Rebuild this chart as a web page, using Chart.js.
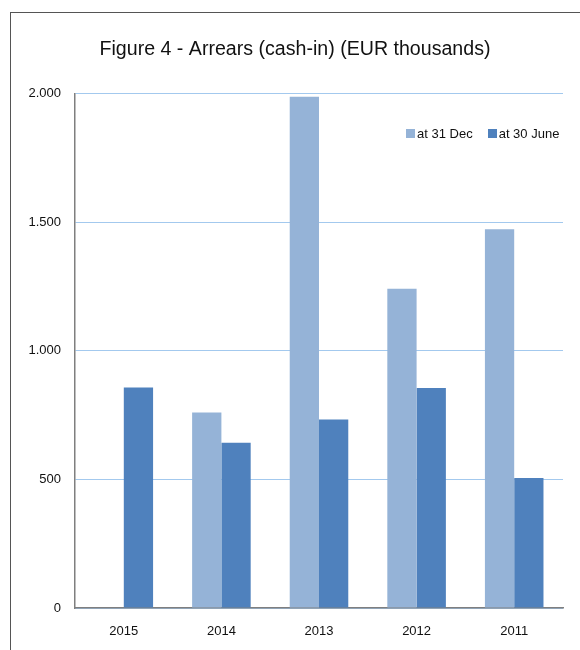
<!DOCTYPE html>
<html>
<head>
<meta charset="utf-8">
<script src="https://cdn.jsdelivr.net/npm/chart.js@4"></script>
<style>
  html, body { margin: 0; padding: 0; background: #fff; }
  body { width: 580px; height: 650px; position: relative; overflow: hidden; font-family: "Liberation Sans", Arial, sans-serif; }
  #frame { position: absolute; left: 10px; top: 12px; width: 700px; height: 700px; border-left: 1.5px solid #555; border-top: 1.5px solid #555; }
  #wrap { position: absolute; left: 0; top: 0; width: 580px; height: 650px; }
  #legend { position: absolute; top: 126px; left: 406px; font-size: 13px; color: #111; display: flex; align-items: center; white-space: nowrap; }
  #legend span.box { display: inline-block; width: 9px; height: 9px; margin-right: 2px; }
  #legend span.item { display: inline-flex; align-items: center; margin-right: 15px; }
</style>
</head>
<body>
<div id="frame"></div>
<div id="wrap"><canvas id="chart" width="580" height="650"></canvas></div>
<div id="legend"></div>
<script>
// data
const years = ["2015", "2014", "2013", "2012", "2011"];
const atDec = [null, 760, 1987, 1241, 1472];
const atJune = [857, 642, 733, 855, 505];
const seriesNames = ["at 31 Dec", "at 30 June"];
const seriesColors = ["#95B3D7", "#4F81BD"];
const yTicks = [0, 500, 1000, 1500, 2000];

const FONT = "'Liberation Sans', Arial, sans-serif";

// html legend (top right inside the plot)
const legendEl = document.getElementById("legend");
seriesNames.forEach((name, i) => {
  const item = document.createElement("span");
  item.className = "item";
  const box = document.createElement("span");
  box.className = "box";
  box.style.background = seriesColors[i];
  item.appendChild(box);
  item.appendChild(document.createTextNode(name));
  legendEl.appendChild(item);
});

const fmt = v => v.toLocaleString("de-DE");

new Chart(document.getElementById("chart"), {
  type: "bar",
  data: {
    labels: years,
    datasets: [
      { label: seriesNames[0], data: atDec, backgroundColor: seriesColors[0] },
      { label: seriesNames[1], data: atJune, backgroundColor: seriesColors[1] }
    ]
  },
  options: {
    responsive: false,
    animation: false,
    layout: { padding: { left: 27, right: 17, top: 0, bottom: 0 } },
    datasets: { bar: { categoryPercentage: 0.6, barPercentage: 1 } },
    plugins: {
      legend: { display: false },
      tooltip: { enabled: false },
      title: {
        display: true,
        text: "Figure 4 - Arrears (cash-in) (EUR thousands)",
        color: "#111",
        font: { family: FONT, size: 19.6, weight: "normal" },
        padding: { top: 38, bottom: 32 }
      }
    },
    scales: {
      x: {
        grid: { display: false, drawTicks: false },
        border: { color: "#7f7f7f", width: 1.5 },
        ticks: { color: "#111", font: { family: FONT, size: 13 }, padding: 16 },
        afterFit: s => { s.height = 42; }
      },
      y: {
        min: 0,
        max: 2000,
        afterBuildTicks: s => { s.ticks = yTicks.map(v => ({ value: v })); },
        grid: { color: "#A3C9EE", lineWidth: 1, drawTicks: false },
        border: { color: "#7f7f7f", width: 1.5 },
        ticks: { color: "#111", font: { family: FONT, size: 13 }, padding: 14, callback: v => fmt(v) },
        afterFit: s => { s.width = 48; }
      }
    }
  }
});
</script>
</body>
</html>
